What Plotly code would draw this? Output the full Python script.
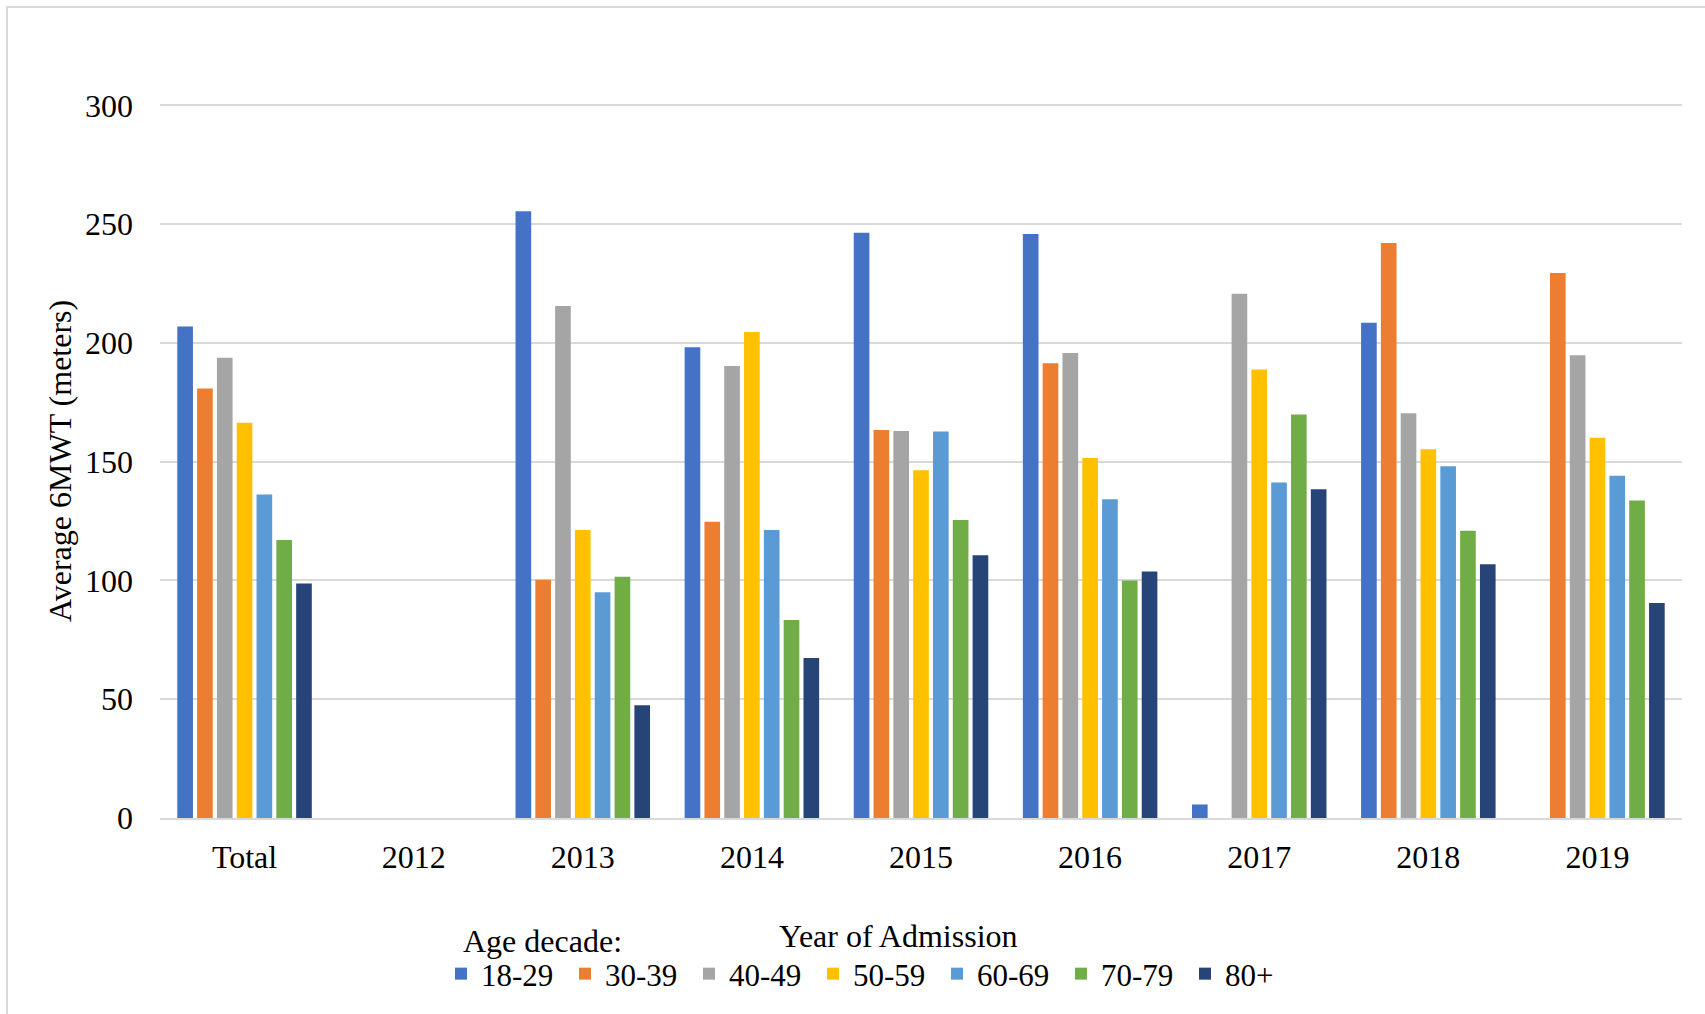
import plotly.graph_objects as go

categories = ["Total", "2012", "2013", "2014", "2015", "2016", "2017", "2018", "2019"]

age_18_29 = [206.9, None, 255.4, 198.2, 246.4, 245.9, 5.7, 208.5, None]
age_30_39 = [180.8, None, 100.3, 124.7, 163.4, 191.5, None, 242.1, 229.4]
age_40_49 = [193.8, None, 215.6, 190.3, 162.9, 195.8, 220.7, 170.4, 194.8]
age_50_59 = [166.4, None, 121.3, 204.6, 146.4, 151.6, 188.8, 155.2, 160.1]
age_60_69 = [136.2, None, 95.0, 121.3, 162.7, 134.2, 141.3, 148.1, 144.1]
age_70_79 = [117.0, None, 101.6, 83.4, 125.5, 100.0, 169.9, 120.9, 133.7]
age_80_plus = [98.7, None, 47.5, 67.4, 110.6, 103.8, 138.4, 106.8, 90.5]

series_names = ["18-29", "30-39", "40-49", "50-59", "60-69", "70-79", "80+"]
series_values = [age_18_29, age_30_39, age_40_49, age_50_59, age_60_69, age_70_79, age_80_plus]
colors = ["#4472C4", "#ED7D31", "#A5A5A5", "#FFC000", "#5B9BD5", "#70AD47", "#264478"]

y_ticks = [0, 50, 100, 150, 200, 250, 300]

FONT = "Liberation Serif, Times New Roman, serif"
FS = 32

fig = go.Figure()
for name, vals, col in zip(series_names, series_values, colors):
    fig.add_trace(go.Bar(x=categories, y=vals, name=name,
                         marker=dict(color=col, line=dict(width=0))))

W, H = 1705, 1014
L, R, T, B = 160, 23, 104, 196
pw, ph = W - L - R, H - T - B

def px_x(x):
    return (x - L) / pw

def px_y(y):
    return (H - B - y) / ph

fig.update_layout(
    width=W, height=H,
    margin=dict(l=L, r=R, t=T, b=B, pad=0),
    paper_bgcolor="white", plot_bgcolor="white",
    font=dict(family=FONT, size=FS, color="black"),
    barmode="group", bargap=0.18, bargroupgap=0.21,
    showlegend=True,
    legend=dict(orientation="h", x=px_x(441), xanchor="left",
                y=px_y(974), yanchor="middle",
                entrywidth=79, entrywidthmode="pixels",
                font=dict(family=FONT, size=31, color="black"),
                bgcolor="rgba(0,0,0,0)", itemclick=False),
    xaxis=dict(showgrid=False, showline=True, linecolor="#d9d9d9", linewidth=1.5,
               ticks="", ticklabelstandoff=10,
               tickfont=dict(family=FONT, size=FS, color="black")),
    yaxis=dict(range=[0, 300.6], tickvals=y_ticks, showgrid=True, gridcolor="#d9d9d9",
               gridwidth=1.5, zeroline=False, showline=False, ticks="",
               ticklabelstandoff=26,
               tickfont=dict(family=FONT, size=FS, color="black")),
    shapes=[dict(type="rect", xref="paper", yref="paper",
                 x0=px_x(7), x1=px_x(1720), y0=px_y(1030), y1=px_y(7),
                 line=dict(color="#d9d9d9", width=2), layer="below")],
    annotations=[
        dict(text="Average 6MWT (meters)", xref="paper", yref="paper",
             x=px_x(60), y=px_y(461), xanchor="center", yanchor="middle",
             textangle=-90, showarrow=False, font=dict(family=FONT, size=FS, color="black")),
        dict(text="Year of Admission", xref="paper", yref="paper",
             x=px_x(898), y=px_y(936), xanchor="center", yanchor="middle",
             showarrow=False, font=dict(family=FONT, size=FS, color="black")),
        dict(text="Age decade:", xref="paper", yref="paper",
             x=px_x(461), y=px_y(941), xanchor="left", yanchor="middle",
             showarrow=False, font=dict(family=FONT, size=FS, color="black")),
    ],
)

fig.write_html("out.html")
